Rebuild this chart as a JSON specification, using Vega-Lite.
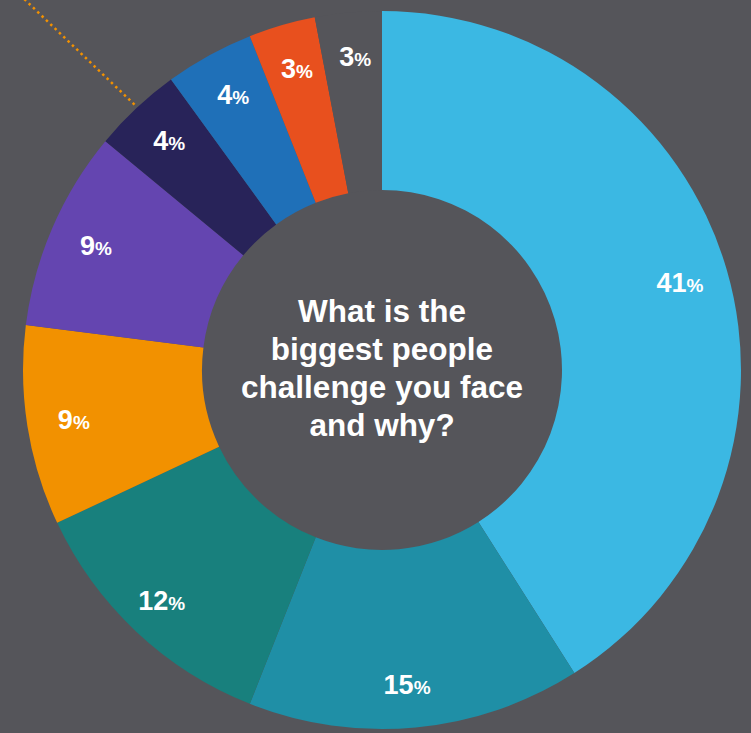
{
  "$schema": "https://vega.github.io/schema/vega-lite/v6.json",
  "width": 750,
  "height": 732,
  "autosize": "none",
  "padding": {"left": 7, "top": 4, "right": 0, "bottom": 0},
  "background": "#55555A",
  "config": {"view": {"stroke": null}},
  "datasets": {
    "slices": [
      {"idx": 1, "cat": "A", "pct": 41, "num": "41"},
      {"idx": 2, "cat": "B", "pct": 15, "num": "15"},
      {"idx": 3, "cat": "C", "pct": 12, "num": "12"},
      {"idx": 4, "cat": "D", "pct": 9, "num": "9"},
      {"idx": 5, "cat": "E", "pct": 9, "num": "9"},
      {"idx": 6, "cat": "F", "pct": 4, "num": "4"},
      {"idx": 7, "cat": "G", "pct": 4, "num": "4"},
      {"idx": 8, "cat": "H", "pct": 3, "num": "3"},
      {"idx": 9, "cat": "I", "pct": 3, "num": "3"}
    ],
    "leader": [
      {"px": 13, "py": -9},
      {"px": 130, "py": 103}
    ],
    "question": [
      {"q": "What is the\nbiggest people\nchallenge you face\nand why?"}
    ]
  },
  "layer": [
    {
      "data": {"name": "slices"},
      "mark": {"type": "arc", "innerRadius": 180, "outerRadius": 359},
      "encoding": {
        "theta": {"field": "pct", "type": "quantitative", "stack": true},
        "order": {"field": "idx", "type": "quantitative"},
        "color": {
          "field": "cat",
          "type": "nominal",
          "scale": {
            "domain": ["A", "B", "C", "D", "E", "F", "G", "H", "I"],
            "range": ["#3BB8E3", "#1F8FA6", "#18807D", "#F29100", "#6445B0", "#282359", "#1F70B8", "#E8501E", "#55555A"]
          },
          "legend": null
        }
      }
    },
    {
      "data": {"name": "slices"},
      "mark": {"type": "text", "radius": 315, "align": "right", "baseline": "alphabetic", "dy": 10, "dx": 2, "font": "Liberation Sans", "fontWeight": "bold", "fontSize": 27, "fill": "#FFFFFF"},
      "encoding": {
        "theta": {"field": "pct", "type": "quantitative", "stack": true},
        "order": {"field": "idx", "type": "quantitative"},
        "detail": {"field": "cat", "type": "nominal"},
        "text": {"field": "num", "type": "nominal"}
      }
    },
    {
      "data": {"name": "slices"},
      "mark": {"type": "text", "radius": 315, "align": "left", "baseline": "alphabetic", "dy": 10, "dx": 2, "font": "Liberation Sans", "fontWeight": "bold", "fontSize": 19, "fill": "#FFFFFF", "text": "%"},
      "encoding": {
        "theta": {"field": "pct", "type": "quantitative", "stack": true},
        "order": {"field": "idx", "type": "quantitative"},
        "detail": {"field": "cat", "type": "nominal"}
      }
    },
    {
      "data": {"name": "question"},
      "mark": {"type": "text", "align": "center", "baseline": "middle", "dy": -57, "lineBreak": "\n", "lineHeight": 38, "font": "Liberation Sans", "fontWeight": "bold", "fontSize": 31.5, "fill": "#FFFFFF"},
      "encoding": {
        "text": {"field": "q", "type": "nominal"}
      }
    },
    {
      "data": {"name": "leader"},
      "mark": {"type": "line", "stroke": "#F29100", "strokeWidth": 2.5, "strokeDash": [2.5, 3.5], "clip": false},
      "encoding": {
        "x": {"field": "px", "type": "quantitative", "scale": {"domain": [0, 750], "nice": false, "zero": false}, "axis": null},
        "y": {"field": "py", "type": "quantitative", "scale": {"domain": [0, 732], "reverse": true, "nice": false, "zero": false}, "axis": null}
      }
    }
  ]
}
